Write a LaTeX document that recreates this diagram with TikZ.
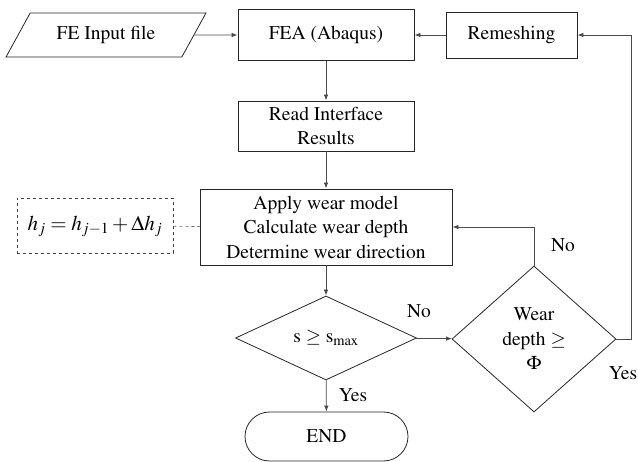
\documentclass[tikz,border=0pt]{standalone}
\usepackage[T1]{fontenc}
\usepackage{mathptmx}
\usetikzlibrary{shapes.geometric,shapes.misc,arrows.meta}

\tikzset{
  base/.style={draw=black!85, line width=0.8pt, align=center, inner sep=0pt},
  procbox/.style={base, rectangle},
  iobox/.style={base, trapezium, trapezium left angle=48, trapezium right angle=132,
    trapezium stretches=true},
  decision/.style={base, diamond},
  termbox/.style={base, rounded rectangle},
  notebox/.style={base, dashed, draw=black!75},
  arr/.style={draw=black!70, line width=0.8pt, -{Latex[length=6pt,width=4.5pt]}},
  lbl/.style={inner sep=0pt}
}

\begin{document}
\begin{tikzpicture}[x=1pt, y=-1pt, font=\fontsize{19.5}{24.5}\selectfont]
  \useasboundingbox (0,0) rectangle (638,462);
  \node[iobox, minimum width=200pt, minimum height=44pt] (input) at (106,35) {FE Input file};
  \node[procbox, minimum width=176pt, minimum height=51pt] (fea) at (326,35) {FEA (Abaqus)};
  \node[procbox, minimum width=131pt, minimum height=46pt] (remesh) at (511.5,35) {Remeshing};
  \node[procbox, minimum width=176pt, minimum height=50pt] (read) at (326,126) {Read Interface\\Results};
  \node[procbox, minimum width=252pt, minimum height=76pt] (apply) at (326,227) {Apply wear model\\Calculate wear depth\\Determine wear direction};
  \node[notebox, minimum width=156pt, minimum height=55pt, font=\fontsize{21}{25}\selectfont] (formula) at (95,226)
    {$h_j = h_{j-1} + \Delta h_j$};
  \node[decision, minimum width=181pt, minimum height=84pt] (smax) at (326,338) {s $\geq$ s\textsubscript{max}};
  \node[decision, minimum width=164pt, minimum height=146pt] (wear) at (534,339) {Wear\\depth $\geq$\\$\Phi$};
  \node[termbox, minimum width=163pt, minimum height=49pt] (end) at (326.5,436.5) {END};
  \coordinate (turn) at (631,339);

  \draw[arr] (input.east) -- (fea.west);
  \draw[arr] (remesh) -- (fea);
  \draw[arr] (fea) -- (read);
  \draw[arr] (read) -- (apply);
  \draw[arr] (apply) -- (smax);
  \draw[arr] (smax) -- (end);
  \draw[arr] (smax) -- (wear);
  \draw[arr] (wear.north) |- (apply.east);
  \draw[arr] (wear.east) -- (turn) |- (remesh.east);
  \draw[draw=black!60, dashed, line width=0.7pt] (formula) -- (apply);

  \node[lbl] (no1) at (419,311) {No};
  \node[lbl] (yes1) at (353,395) {Yes};
  \node[lbl] (no2) at (563,245) {No};
  \node[lbl] (yes2) at (623,373) {Yes};
\end{tikzpicture}
\end{document}
